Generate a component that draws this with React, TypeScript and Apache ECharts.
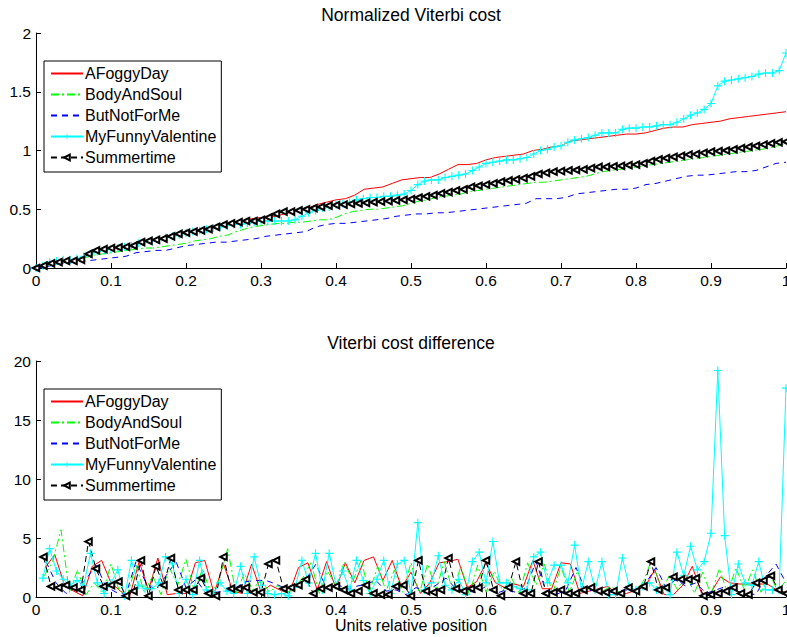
import React, { useEffect, useRef } from "react";
import * as echarts from "echarts";

const SERIES_NAMES = ["AFoggyDay", "BodyAndSoul", "ButNotForMe", "MyFunnyValentine", "Summertime"];
const X_TICK_LABELS = ["0", "0.1", "0.2", "0.3", "0.4", "0.5", "0.6", "0.7", "0.8", "0.9", "1"];
const TOP_Y_LABELS = ["0", "0.5", "1", "1.5", "2"];
const BOTTOM_Y_LABELS = ["0", "5", "10", "15", "20"];
const TITLES = ["Normalized Viterbi cost", "Viterbi cost difference"];
const X_LABEL = "Units relative position";

// Normalized cumulative cost (top)
const AFD_TOP = [
  0, 0.02, 0.03, 0.05, 0.06, 0.09, 0.13, 0.15, 0.17, 0.18,
  0.19, 0.21, 0.24, 0.25, 0.26, 0.28, 0.30, 0.31, 0.33, 0.35,
  0.37, 0.38, 0.40, 0.42, 0.43, 0.43, 0.45, 0.47, 0.49, 0.51,
  0.54, 0.56, 0.58, 0.59, 0.62, 0.67, 0.68, 0.69, 0.72, 0.75,
  0.76, 0.77, 0.77, 0.80, 0.84, 0.88, 0.88, 0.89, 0.92, 0.94,
  0.95, 0.96, 0.97, 1.00, 1.01, 1.03, 1.04, 1.08, 1.09, 1.10,
  1.11, 1.12, 1.13, 1.14, 1.14, 1.15, 1.17, 1.19, 1.20, 1.20,
  1.22, 1.23, 1.24, 1.25, 1.27, 1.28, 1.29, 1.30, 1.31, 1.32,
  1.33,
];
const BAS_TOP = [
  0, 0.01, 0.03, 0.04, 0.05, 0.07, 0.09, 0.11, 0.12, 0.13,
  0.14, 0.15, 0.16, 0.17, 0.17, 0.18, 0.19, 0.20, 0.21, 0.23,
  0.24, 0.25, 0.27, 0.28, 0.31, 0.33, 0.35, 0.36, 0.37, 0.38,
  0.38, 0.39, 0.39, 0.40, 0.41, 0.41, 0.43, 0.46, 0.48, 0.49,
  0.50, 0.50, 0.51, 0.52, 0.53, 0.55, 0.57, 0.58, 0.60, 0.61,
  0.62, 0.63, 0.65, 0.66, 0.67, 0.68, 0.69, 0.70, 0.71, 0.72,
  0.73, 0.73, 0.74, 0.75, 0.76, 0.77, 0.78, 0.80, 0.82, 0.83,
  0.84, 0.85, 0.86, 0.87, 0.88, 0.89, 0.90, 0.91, 0.92, 0.93,
  0.94, 0.95, 0.96, 0.97, 0.98, 0.99, 1.00, 1.01, 1.02, 1.04,
  1.06,
];
const BNFM_TOP = [
  0, 0.01, 0.03, 0.04, 0.05, 0.06, 0.07, 0.08, 0.09, 0.10,
  0.13, 0.14, 0.15, 0.15, 0.17, 0.19, 0.20, 0.21, 0.22, 0.22,
  0.23, 0.24, 0.25, 0.27, 0.28, 0.29, 0.30, 0.31, 0.35, 0.37,
  0.38, 0.38, 0.39, 0.40, 0.41, 0.42, 0.44, 0.45, 0.46, 0.46,
  0.47, 0.47, 0.48, 0.49, 0.50, 0.51, 0.52, 0.53, 0.54, 0.55,
  0.59, 0.59, 0.59, 0.60, 0.63, 0.64, 0.65, 0.66, 0.67, 0.67,
  0.68, 0.71, 0.72, 0.74, 0.76, 0.78, 0.79, 0.79, 0.80, 0.81,
  0.82, 0.82, 0.83, 0.86, 0.89, 0.90,
];
const MFV_TOP = [
  0, 0.02, 0.05, 0.06, 0.07, 0.07, 0.08, 0.10, 0.12, 0.14,
  0.15, 0.16, 0.17, 0.18, 0.19, 0.21, 0.22, 0.23, 0.24, 0.26,
  0.27, 0.28, 0.30, 0.31, 0.32, 0.33, 0.34, 0.35, 0.36, 0.37,
  0.37, 0.38, 0.39, 0.40, 0.40, 0.40, 0.40, 0.40, 0.41, 0.44,
  0.47, 0.49, 0.51, 0.52, 0.54, 0.55, 0.56, 0.58, 0.59, 0.60,
  0.60, 0.61, 0.61, 0.62, 0.63, 0.66, 0.71, 0.74, 0.75, 0.75,
  0.77, 0.78, 0.79, 0.80, 0.83, 0.86, 0.89, 0.90, 0.91, 0.92,
  0.92, 0.93, 0.94, 0.97, 1.00, 1.01, 1.03, 1.04, 1.07, 1.09,
  1.10, 1.11, 1.13, 1.15, 1.15, 1.15, 1.18, 1.19, 1.19, 1.20,
  1.20, 1.21, 1.22, 1.22, 1.24, 1.27, 1.30, 1.32, 1.35, 1.40,
  1.55, 1.59, 1.60, 1.61, 1.62, 1.63, 1.65, 1.66, 1.66, 1.68,
  1.83,
];
const ST_TOP = [
  0, 0.02, 0.04, 0.05, 0.06, 0.06, 0.07, 0.12, 0.15, 0.16,
  0.17, 0.175, 0.18, 0.19, 0.22, 0.23, 0.24, 0.25, 0.27, 0.29,
  0.30, 0.31, 0.32, 0.33, 0.35, 0.37, 0.38, 0.39, 0.40, 0.40,
  0.41, 0.43, 0.46, 0.48, 0.48, 0.49, 0.50, 0.51, 0.52, 0.53,
  0.536, 0.54, 0.545, 0.55, 0.555, 0.56, 0.565, 0.57, 0.575, 0.58,
  0.587, 0.60, 0.61, 0.62, 0.635, 0.645, 0.66, 0.67, 0.69, 0.70,
  0.71, 0.72, 0.735, 0.745, 0.755, 0.765, 0.78, 0.80, 0.81, 0.82,
  0.825, 0.83, 0.834, 0.84, 0.85, 0.86, 0.86, 0.865, 0.87, 0.875,
  0.88, 0.89, 0.91, 0.925, 0.935, 0.945, 0.955, 0.965, 0.97, 0.98,
  0.99, 0.995, 1.0, 1.01, 1.02, 1.03, 1.04, 1.05, 1.06, 1.07,
  1.075,
];

// Viterbi cost difference (bottom)
const AFD_DIFF = [
  2.5, 3.6, 1.1, 0.5, 0.1, 2.6, 3.1, 1.2, 0.5, 0.1,
  3.0, 0.6, 3.3, 0.2, 0.3, 0.3, 2.9, 3.1, 0.3, 2.8,
  0.5, 0.3, 2.8, 0.4, 1.0, 0.6, 0.3, 2.5, 2.9, 0.6,
  3.0, 0.7, 2.9, 1.2, 3.1, 3.4, 1.4, 3.1, 0.8, 2.1,
  0.3, 1.2, 2.9, 3.0, 3.2, 0.8, 1.3, 2.9, 1.2, 0.8,
  1.1, 0.9, 3.1, 0.7, 0.7, 2.9, 2.8, 0.3, 0.5, 0.7,
  0.9, 0.2, 0.3, 0.6, 0.9, 2.3, 0.2, 0.2, 1.0, 2.6,
  0.3, 0.4, 1.7, 1.2, 1.1, 1.1, 1.1, 1.1, 0.6, 0.4,
];
const BAS_DIFF = [
  1.8, 3.0, 5.7, 0.4, 2.3, 0.2, 1.2, 0.3, 2.8, 0.5,
  0.2, 2.7, 0.4, 1.8, 0.2, 2.5, 1.0, 3.2, 0.5, 2.4,
  0.2, 1.5, 4.1, 0.3, 2.0, 0.6, 1.5, 0.4, 1.0, 0.3,
  0.8, 1.6, 2.9, 0.3, 2.2, 0.9, 3.0, 1.3, 3.1, 0.4,
  2.6, 0.5, 2.3, 0.4, 2.9, 0.3, 2.8, 0.6, 3.0, 0.5,
  2.6, 0.2, 2.7, 0.4, 2.2, 0.5, 1.7, 0.3, 2.9, 1.0,
  2.8, 0.3, 2.6, 0.4, 2.2, 0.3, 1.2, 0.5, 0.9, 0.4,
  0.8, 0.3, 1.5, 3.4, 0.4, 1.8, 0.6, 2.0, 0.3, 2.1,
  0.2, 2.4, 0.3, 2.5, 0.6, 2.3, 0.4, 2.0, 0.5, 1.4,
];
const BNFM_DIFF = [
  3.0, 1.2, 0.3, 0.8, 1.5, 2.7, 0.9, 0.4, 0.2, 3.0,
  1.2, 0.6, 1.8, 3.0, 0.8, 1.5, 0.3, 0.4, 0.5, 0.8,
  1.3, 1.4, 1.4, 1.1, 0.7, 0.9, 1.5, 2.8, 0.8, 1.2,
  0.6, 0.9, 1.1, 1.4, 0.5, 0.6, 0.2, 0.8, 0.5, 1.0,
  1.6, 0.7, 0.5, 0.4, 0.9, 0.3, 0.6, 0.4, 0.8, 3.0,
  0.5, 0.2, 0.6, 2.5, 0.4, 0.7, 0.3, 0.5, 0.6, 0.4,
  1.2, 2.5, 0.8, 1.5, 0.9, 1.2, 0.3, 0.6, 0.9, 0.5,
  0.3, 0.2, 1.8, 2.8, 1.2,
];
const MFV_DIFF = [
  1.6, 4.1, 2.2, 1.5, 1.0, 1.4, 1.0, 3.7, 1.2, 0.3,
  1.2, 2.3, 0.1, 3.1, 1.0, 0.7, 0.7, 1.2, 3.4, 2.8,
  0.3, 1.5, 0.2, 3.1, 0.6, 0.3, 1.2, 0.5, 0.3, 2.6,
  0.3, 3.4, 1.0, 0.3, 0.2, 0.3, 0.1, 0.8, 3.1, 1.2,
  3.7, 0.6, 3.7, 1.0, 2.2, 0.6, 3.1, 1.4, 0.3, 1.5,
  3.1, 0.3, 2.8, 3.1, 0.3, 6.3, 0.6, 1.2, 3.5, 1.0,
  0.6, 1.5, 0.2, 3.0, 3.8, 1.2, 4.7, 1.2, 1.2, 0.9,
  0.7, 0.6, 3.4, 3.8, 1.2, 2.7, 2.7, 1.2, 4.4, 0.6,
  3.0, 0.6, 3.0, 0.2, 0.2, 3.3, 0.9, 0.6, 0.9, 1.2,
  0.6, 0.8, 0.2, 3.8, 1.8, 4.3, 2.3, 3.0, 5.4, 19.2,
  5.2, 0.2, 2.8, 1.2, 1.0, 3.0, 0.6, 0.6, 0.6, 17.7,
];
const ST_DIFF = [
  3.4, 0.9, 0.8, 1.0, 0.8, 0.6, 4.7, 2.4, 0.9, 1.0,
  1.3, 0.1, 0.5, 3.1, 0.1, 2.6, 1.0, 3.3, 0.6, 0.6,
  0.6, 1.6, 0.3, 0.1, 3.4, 0.7, 0.7, 0.8, 0.4, 0.4,
  2.8, 3.1, 0.7, 0.8, 1.0, 1.5, 0.3, 0.7, 0.8, 0.9,
  0.6, 0.3, 0.5, 1.0, 0.3, 0.2, 0.2, 0.9, 1.0, 0.1,
  3.1, 0.5, 0.4, 0.6, 3.3, 0.7, 0.5, 0.7, 0.8, 3.1,
  0.6, 0.1, 0.8, 3.0, 0.3, 0.3, 3.0, 0.3, 0.4, 0.6,
  0.3, 0.3, 0.6, 0.8, 0.5, 0.4, 0.5, 0.3, 0.8, 0.5,
  0.9, 3.0, 0.6, 0.8, 1.7, 1.5, 1.5, 1.6, 0.1, 0.2,
  0.3, 0.5, 0.8, 0.3, 0.2, 1.2, 1.4, 1.8, 0.6, 0.3,
];

const TOP_DATA = [AFD_TOP, BAS_TOP, BNFM_TOP, MFV_TOP, ST_TOP];
const DIFF_DATA = [AFD_DIFF, BAS_DIFF, BNFM_DIFF, MFV_DIFF, ST_DIFF];

const FONT = '"Liberation Sans", Arial, Helvetica, sans-serif';
const PLUS = "path://M4.3,0H5.7V4.3H10V5.7H5.7V10H4.3V5.7H0V4.3H4.3Z";

const STYLES: any[] = [
  { color: "#ff0000", type: "solid", symbol: "none" },
  { color: "#00ff00", type: [8, 3, 2, 3], symbol: "none" },
  { color: "#0000ff", type: [6, 5], symbol: "none" },
  { color: "#00ffff", type: "solid", symbol: PLUS, size: 8 },
  { color: "#000000", type: [6, 4], symbol: "emptyTriangle", rotate: 90, size: 6.5 },
];

function topPoints(vals: number[]) {
  const n = vals.length - 1;
  return vals.map((v, i) => [i / n, v]);
}
function diffPoints(vals: number[]) {
  const n = vals.length;
  return vals.map((v, i) => [(i + 1) / n, v]);
}

function makeSeries(name: string, idx: number, style: any, data: number[][]) {
  const hasSym = style.symbol !== "none";
  return {
    type: "line",
    name,
    xAxisIndex: idx,
    yAxisIndex: idx,
    data,
    symbol: style.symbol,
    symbolSize: style.size || 4,
    symbolRotate: style.rotate || 0,
    showSymbol: hasSym,
    clip: false,
    silent: true,
    lineStyle: { color: style.color, width: 1, type: style.type },
    itemStyle: {
      color: style.color,
      borderColor: style.color,
      borderWidth: style.symbol === PLUS ? 0 : 0.9,
    },
    emphasis: { disabled: true },
  };
}

function xAxis(gridIndex: number, withName: boolean) {
  return {
    type: "value",
    gridIndex,
    min: 0,
    max: 1,
    interval: 0.1,
    name: withName ? X_LABEL : "",
    nameLocation: "middle",
    nameGap: 19,
    nameTextStyle: { color: "#000", fontSize: 16, fontFamily: FONT },
    axisLine: { show: true, onZero: false, lineStyle: { color: "#000", width: 1 } },
    axisTick: { show: true, inside: true, length: 5, lineStyle: { color: "#000" } },
    axisLabel: {
      color: "#000",
      fontSize: 15.5,
      fontFamily: FONT,
      margin: 4,
      formatter: (v: number) => X_TICK_LABELS[Math.round(v * 10)],
    },
    splitLine: { show: false },
  };
}

function yAxis(gridIndex: number, max: number, interval: number, labels: string[]) {
  return {
    type: "value",
    gridIndex,
    min: 0,
    max,
    interval,
    axisLine: { show: true, onZero: false, lineStyle: { color: "#000", width: 1 } },
    axisTick: { show: true, inside: true, length: 5, lineStyle: { color: "#000" } },
    axisLabel: {
      color: "#000",
      fontSize: 15.5,
      fontFamily: FONT,
      margin: 5,
      formatter: (v: number) => labels[Math.round(v / interval)],
    },
    splitLine: { show: false },
  };
}

function legend(top: number) {
  return {
    orient: "vertical",
    left: 44,
    top,
    data: SERIES_NAMES.map((n, i) =>
      STYLES[i].symbol === "none" ? { name: n, itemStyle: { opacity: 0 } } : { name: n }
    ),
    itemWidth: 32,
    itemHeight: 7,
    itemGap: 4,
    padding: [4, 5, 6, 6],
    backgroundColor: "#fff",
    borderColor: "#000",
    borderWidth: 1,
    borderRadius: 0,
    selectedMode: false,
    textStyle: {
      color: "#000",
      fontSize: 16,
      fontFamily: FONT,
      lineHeight: 17,
      padding: [0, 0, 0, -3],
    },
  };
}

export default function App() {
  const ref = useRef<HTMLDivElement>(null);
  useEffect(() => {
    if (!ref.current) return;
    const chart = echarts.init(ref.current, null, { renderer: "svg" });
    const series: any[] = [];
    SERIES_NAMES.forEach((name, i) => {
      series.push(makeSeries(name, 0, STYLES[i], topPoints(TOP_DATA[i])));
    });
    SERIES_NAMES.forEach((name, i) => {
      series.push(makeSeries(name, 1, STYLES[i], diffPoints(DIFF_DATA[i])));
    });
    chart.setOption({
      animation: false,
      backgroundColor: "#fff",
      grid: [
        { left: 36, right: 1, top: 33, height: 235, containLabel: false, outerBoundsMode: "none" },
        { left: 36, right: 1, top: 361, height: 236, containLabel: false, outerBoundsMode: "none" },
      ],
      xAxis: [xAxis(0, false), xAxis(1, true)],
      yAxis: [yAxis(0, 2, 0.5, TOP_Y_LABELS), yAxis(1, 20, 5, BOTTOM_Y_LABELS)],
      legend: [legend(61), legend(389)],
      graphic: [
        {
          type: "text",
          x: 411,
          y: 15,
          style: {
            text: TITLES[0],
            fill: "#000",
            fontSize: 17.5,
            fontFamily: FONT,
            align: "center",
            verticalAlign: "middle",
          },
        },
        {
          type: "text",
          x: 411,
          y: 343,
          style: {
            text: TITLES[1],
            fill: "#000",
            fontSize: 17.5,
            fontFamily: FONT,
            align: "center",
            verticalAlign: "middle",
          },
        },
      ],
      series,
    });
    return () => chart.dispose();
  }, []);
  return (
    <div
      ref={ref}
      style={{ position: "absolute", left: 0, top: 0, width: 787, height: 637, background: "#fff" }}
    />
  );
}
